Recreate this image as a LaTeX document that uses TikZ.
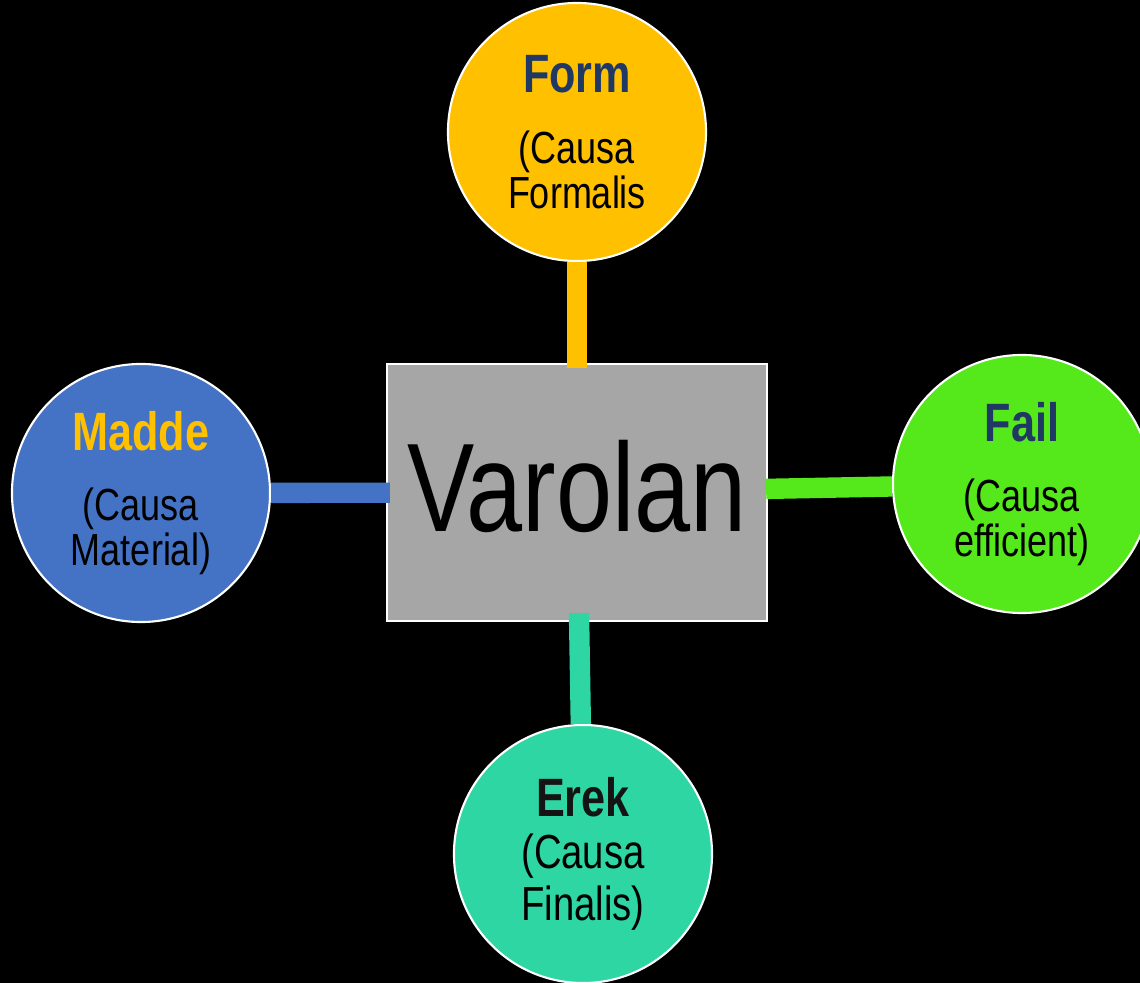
\documentclass[tikz,border=0pt]{standalone}
\usepackage{fontspec}
\setmainfont{Liberation Sans}[FakeStretch=0.8]
\usepackage{tikz}
\usepackage{xcolor}
\definecolor{formcolor}{HTML}{FFC000}
\definecolor{maddecolor}{HTML}{4472C4}
\definecolor{failcolor}{HTML}{55E81B}
\definecolor{erekcolor}{HTML}{2ED6A3}
\definecolor{varcolor}{HTML}{A6A6A6}
\definecolor{navytext}{HTML}{203864}
\colorlet{erektext}{black!92}
\newcommand{\ctitle}[2]{% bold title of a cause
{\fontsize{38.4}{38.4}\selectfont\bfseries\color{#1}#2}}
\tikzstyle{causebox} = [
    circle,
    draw=white,
    line width=1.5pt,
    inner sep=0pt,
    minimum size=6.45cm,
    align=center,
    font=\fontsize{32}{32}\selectfont
    ]
\tikzstyle{varbox} = [
    rectangle,
    draw=white,
    fill=varcolor,
    line width=1.5pt,
    inner sep=0pt,
    minimum width=9.5cm,
    minimum height=6.425cm,
    text depth=9pt,
    font=\fontsize{89.6}{96}\selectfont
    ]
\tikzstyle{linkbar} = [
    line width=14.5pt
    ]

\begin{document}
\begin{tikzpicture}[x=0.025cm,y=-0.025cm]
\fill[black] (0,0) rectangle (1140,983);
\useasboundingbox (0,0) rectangle (1140,983);

\node[varbox] (varolan) at (577,492.5) {Varolan};

\node[causebox, fill=formcolor] (form) at (577,132)
    {\ctitle{navytext}{Form}\\[18pt](Causa\\Formalis};
\node[causebox, fill=maddecolor] (madde) at (141,493)
    {\ctitle{formcolor}{Madde}\\[18pt](Causa\\Material)};
\node[causebox, fill=failcolor] (fail) at (1022,484)
    {\ctitle{navytext}{Fail}\\[18pt](Causa\\efficient)};
\node[causebox, fill=erekcolor, font=\fontsize{34}{37}\selectfont] (erek) at (583,854)
    {\ctitle{erektext}{Erek}\\(Causa\\Finalis)};

% links to the centre box
\draw[linkbar, formcolor, shorten >=-3.6pt] (form) -- (varolan);
\draw[linkbar, maddecolor, shorten >=-2.8pt] (madde) -- (varolan);
\draw[linkbar, failcolor, shorten >=-1.4pt] (fail) -- (varolan);
\draw[linkbar, erekcolor, shorten >=-6.4pt] (erek) -- (varolan);
\end{tikzpicture}
\end{document}
